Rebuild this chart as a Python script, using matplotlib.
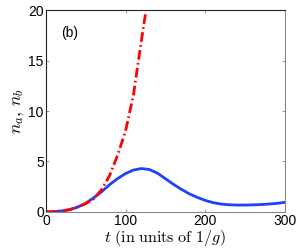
import matplotlib
matplotlib.use("Agg")
import matplotlib.pyplot as plt

# data
t_blue = [0, 10, 20, 30, 40, 50, 60, 70, 80, 90, 100, 110, 120, 130, 140, 150,
          160, 170, 180, 190, 200, 210, 220, 230, 240, 250, 260, 270, 280, 290, 300]
n_blue = [0, 0.03, 0.1, 0.22, 0.48, 0.85, 1.4, 2.0, 2.7, 3.3, 3.8, 4.15, 4.3, 4.2,
          3.85, 3.3, 2.75, 2.25, 1.8, 1.45, 1.15, 0.92, 0.78, 0.71, 0.68, 0.68,
          0.7, 0.73, 0.78, 0.85, 0.95]
t_red = [0, 10, 20, 30, 40, 50, 60, 70, 80, 90, 100, 110, 115, 120, 125]
n_red = [0, 0.03, 0.1, 0.23, 0.5, 0.82, 1.3, 2.2, 3.6, 5.6, 8.0, 11.6, 14.3, 17.0, 19.6]
x_ticks = [0, 100, 200, 300]
y_ticks = [0, 5, 10, 15, 20]

plt.rcParams['mathtext.fontset'] = 'cm'
plt.rcParams['font.family'] = ['Liberation Sans', 'DejaVu Sans']

fig = plt.figure(figsize=(3.0, 2.52), dpi=100)
ax = fig.add_axes([0.153, 0.159, 0.796, 0.801])

ax.plot(t_blue, n_blue, color='#2040ff', lw=2.0, solid_capstyle='round')
ax.plot(t_red, n_red, color='#ff0000', lw=2.0, linestyle=(0, (3.5, 1.2, 0.6, 1.2)))

ax.set_xlim(0, 300)
ax.set_ylim(0, 20)
ax.set_xticks(x_ticks)
ax.set_yticks(y_ticks)
ax.tick_params(direction='in', length=2, width=0.6, labelsize=10, pad=1.5,
               top=True, right=True, colors='#888888', labelcolor='black')
for s in ['left', 'top']:
    ax.spines[s].set_color('#222222')
for s in ['right', 'bottom']:
    ax.spines[s].set_color('#888888')
for s in ax.spines.values():
    s.set_linewidth(0.8)

ax.set_xlabel(r'$t\ (\mathrm{in\ units\ of\ }1/g)$', fontsize=11.5, labelpad=0)
ax.set_ylabel(r'$n_a,\,n_b$', fontsize=12.5, labelpad=1)
ax.text(0.1, 0.885, '(b)', transform=ax.transAxes, fontsize=10, ha='center', va='center')

fig.savefig('out.png', dpi=100)
